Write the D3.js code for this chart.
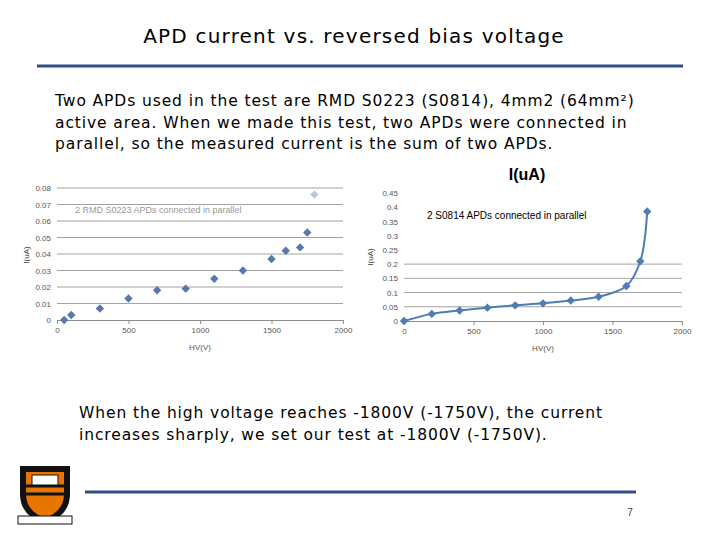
<!DOCTYPE html>
<html>
<head>
<meta charset="utf-8">
<script src="https://d3js.org/d3.v7.min.js"></script>
<style>body{margin:0;background:#fff}</style>
</head>
<body>
<svg width="720" height="540"></svg>
<script>
// left chart: RMD S0223
const leftHV = [50, 100, 300, 500, 700, 900, 1100, 1300, 1500, 1600, 1700, 1750, 1800];
const leftI = [0, 0.003, 0.007, 0.013, 0.018, 0.019, 0.025, 0.030, 0.037, 0.042, 0.044, 0.053, 0.076];
const leftYTicks = [0, 0.01, 0.02, 0.03, 0.04, 0.05, 0.06, 0.07, 0.08];
// right chart: S0814
const rightHV = [0, 200, 400, 600, 800, 1000, 1200, 1400, 1600, 1700, 1750];
const rightI = [0, 0.025, 0.037, 0.047, 0.055, 0.062, 0.072, 0.085, 0.123, 0.21, 0.385];
const rightYTicks = [0, 0.05, 0.1, 0.15, 0.2, 0.25, 0.3, 0.35, 0.4, 0.45];
const xTicks = [0, 500, 1000, 1500, 2000];

const svg = d3.select("svg");
const txtFont = "DejaVu Sans, sans-serif";
const blue = "#2f4f86";
const diamond = "M0,-4.2L4.2,0L0,4.2L-4.2,0Z";

svg.append("text").attr("x", 354).attr("y", 43).attr("text-anchor", "middle")
  .attr("font-family", txtFont).attr("font-size", 20).attr("letter-spacing", 1.2)
  .text("APD current vs. reversed bias voltage");
svg.append("line").attr("x1", 37).attr("x2", 683).attr("y1", 66).attr("y2", 66)
  .attr("stroke", blue).attr("stroke-width", 3);

const para = ["Two APDs used in the test are RMD S0223 (S0814), 4mm2 (64mm²)",
  "active area. When we made this test, two APDs were connected in",
  "parallel, so the measured current is the sum of two APDs."];
para.forEach((s, i) => svg.append("text").attr("x", 55).attr("y", 106 + i * 21.5)
  .attr("font-family", txtFont).attr("font-size", 15.5).attr("letter-spacing", 0.9).text(s));

function chart(xs, ys, yTicks, x0, x1, yb, yt, ymax, gridMax) {
  const x = d3.scaleLinear().domain([0, 2000]).range([x0, x1]);
  const y = d3.scaleLinear().domain([0, ymax]).range([yb, yt]);
  const g = svg.append("g");
  g.selectAll(".grid").data(yTicks.filter(t => t > 0 && t <= gridMax)).join("line")
    .attr("x1", x0).attr("x2", x1).attr("y1", d => y(d)).attr("y2", d => y(d))
    .attr("stroke", "#8c8c8c").attr("stroke-width", 0.8);
  const xa = g.append("g").attr("transform", `translate(0,${yb})`)
    .call(d3.axisBottom(x).tickValues(xTicks).tickSize(4).tickFormat(d3.format("d")));
  const ya = g.append("g").attr("transform", `translate(${x0},0)`)
    .call(d3.axisLeft(y).tickValues(yTicks).tickSize(0).tickPadding(6).tickFormat(d => d));
  ya.select(".domain").remove();
  g.selectAll(".domain").attr("stroke", "#8c8c8c");
  g.selectAll(".tick line").attr("stroke", "#8c8c8c");
  g.selectAll("text").attr("font-size", 8).attr("fill", "#555").attr("font-family", "Liberation Sans, sans-serif");
  return { x, y, g };
}

// left
const L = chart(leftHV, leftI, leftYTicks, 57, 343, 320, 188, 0.08, 0.08);
L.g.append("text").attr("x", 75).attr("y", 213).attr("font-size", 9).attr("fill", "#999")
  .attr("font-family", "Liberation Sans, sans-serif").text("2 RMD S0223 APDs connected in parallel");
L.g.selectAll(".pt").data(leftHV).join("path")
  .attr("transform", (d, i) => `translate(${L.x(d)},${L.y(leftI[i])})`)
  .attr("d", diamond)
  .attr("fill", (d, i) => i === leftHV.length - 1 ? "#b8c7df" : "#5679ad");
L.g.append("text").attr("x", 200).attr("y", 350).attr("text-anchor", "middle").attr("font-size", 8)
  .attr("fill", "#555").attr("font-family", "Liberation Sans, sans-serif").text("HV(V)");
L.g.append("text").attr("transform", "translate(29,255) rotate(-90)").attr("text-anchor", "middle")
  .attr("font-size", 8).attr("fill", "#333").attr("font-family", "Liberation Sans, sans-serif").text("I(uA)");

// right
const R = chart(rightHV, rightI, rightYTicks, 404, 682, 321, 193, 0.45, 0.2);
R.g.append("text").attr("x", 527).attr("y", 180).attr("text-anchor", "middle").attr("font-size", 16)
  .attr("font-weight", "bold").attr("font-family", "Liberation Sans, sans-serif").text("I(uA)");
R.g.append("text").attr("x", 427).attr("y", 219).attr("font-size", 10)
  .attr("font-family", "Liberation Sans, sans-serif").text("2 S0814 APDs connected in parallel");
R.g.append("path").datum(rightHV).attr("fill", "none").attr("stroke", "#4f7cb5").attr("stroke-width", 2)
  .attr("d", d3.line().x(d => R.x(d)).y((d, i) => R.y(rightI[i])).curve(d3.curveCatmullRom));
R.g.selectAll(".pt").data(rightHV).join("path")
  .attr("transform", (d, i) => `translate(${R.x(d)},${R.y(rightI[i])})`)
  .attr("d", diamond).attr("fill", "#4f7cb5");
R.g.append("text").attr("x", 543).attr("y", 351).attr("text-anchor", "middle").attr("font-size", 8)
  .attr("fill", "#555").attr("font-family", "Liberation Sans, sans-serif").text("HV(V)");
R.g.append("text").attr("transform", "translate(373,257) rotate(-90)").attr("text-anchor", "middle")
  .attr("font-size", 8).attr("fill", "#333").attr("font-family", "Liberation Sans, sans-serif").text("I(uA)");

const bottom = ["When the high voltage reaches -1800V (-1750V), the current",
  "increases sharply, we set our test at -1800V (-1750V)."];
bottom.forEach((s, i) => svg.append("text").attr("x", 79).attr("y", 418 + i * 22)
  .attr("font-family", txtFont).attr("font-size", 15.5).attr("letter-spacing", 0.9).text(s));
svg.append("line").attr("x1", 85).attr("x2", 636).attr("y1", 492).attr("y2", 492)
  .attr("stroke", blue).attr("stroke-width", 3);
svg.append("text").attr("x", 630).attr("y", 516).attr("text-anchor", "middle").attr("font-size", 10)
  .attr("fill", "#444").attr("font-family", "Liberation Sans, sans-serif").text("7");

// shield logo
const lg = svg.append("g").attr("transform", "translate(18,464)");
lg.append("path").attr("d", "M2,2 L52,2 L52,30 Q52,52 27,60 Q2,52 2,30 Z").attr("fill", "#111");
lg.append("path").attr("d", "M8,8 L46,8 L46,30 Q46,47 27,54 Q8,47 8,30 Z").attr("fill", "#e77500");
lg.append("path").attr("d", "M8,22 L46,22 M8,30 L46,30").attr("stroke", "#111").attr("stroke-width", 3);
lg.append("rect").attr("x", 14).attr("y", 11).attr("width", 26).attr("height", 10).attr("fill", "#fff").attr("stroke", "#111");
lg.append("rect").attr("x", 0).attr("y", 52).attr("width", 54).attr("height", 8).attr("fill", "#fff").attr("stroke", "#111");
</script>
</body>
</html>
